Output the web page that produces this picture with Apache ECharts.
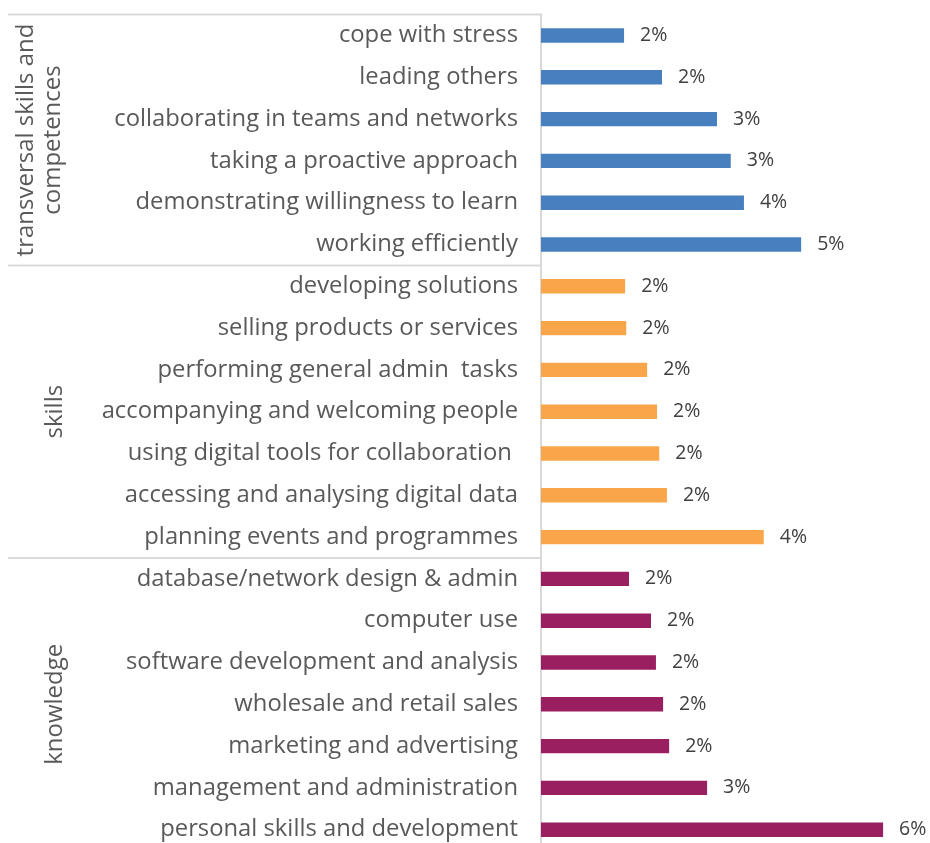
<!DOCTYPE html>
<html>
<head>
<meta charset="utf-8">
<script src="https://cdn.jsdelivr.net/npm/echarts@6/dist/echarts.min.js"></script>
<style>
  html, body { margin: 0; padding: 0; background: #ffffff; overflow: hidden; }
  #chart { width: 930px; height: 860px; }
</style>
</head>
<body>
<div id="chart"></div>
<script>
// Share of mentions (%) per item, grouped by type
const groupNames = ['transversal skills and\ncompetences', 'skills', 'knowledge'];

const transversalItems = ['cope with stress', 'leading others', 'collaborating in teams and networks',
  'taking a proactive approach', 'demonstrating willingness to learn', 'working efficiently'];
const transversalValues = [1.51, 2.2, 3.2, 3.45, 3.69, 4.73];

const skillItems = ['developing solutions', 'selling products or services', 'performing general admin  tasks',
  'accompanying and welcoming people', 'using digital tools for collaboration ', 'accessing and analysing digital data',
  'planning events and programmes'];
const skillValues = [1.53, 1.55, 1.93, 2.11, 2.15, 2.29, 4.05];

const knowledgeItems = ['database/network design & admin', 'computer use', 'software development and analysis',
  'wholesale and retail sales', 'marketing and advertising', 'management and administration',
  'personal skills and development'];
const knowledgeValues = [1.6, 2.0, 2.09, 2.22, 2.33, 3.02, 6.22];

const groupColors = ['#477fbf', '#f9a64a', '#9a1f60'];

const groups = [
  { items: transversalItems, values: transversalValues },
  { items: skillItems, values: skillValues },
  { items: knowledgeItems, values: knowledgeValues }
];

const categories = [];
const barData = [];
groups.forEach((g, gi) => {
  g.items.forEach((name, i) => {
    categories.push(name);
    barData.push({ value: g.values[i], itemStyle: { color: groupColors[gi] } });
  });
});

const FONT = '"Open Sans", Lato, sans-serif';
const chart = echarts.init(document.getElementById('chart'));

chart.setOption({
  animation: false,
  backgroundColor: '#ffffff',
  grid: { left: 541, top: 14.6, width: 385, height: 836 },
  xAxis: {
    type: 'value', min: 0, max: 7, show: false
  },
  yAxis: {
    type: 'category',
    data: categories,
    inverse: true,
    axisLine: { show: true, lineStyle: { color: '#d9d9d9', width: 2 } },
    axisTick: { show: false },
    axisLabel: {
      margin: 23,
      color: '#595959',
      fontFamily: FONT,
      fontSize: 23.8
    }
  },
  series: [{
    type: 'bar',
    data: barData,
    barWidth: 14.4,
    label: {
      show: true,
      position: 'right',
      distance: 16,
      color: '#404040',
      fontFamily: FONT,
      fontSize: 19.5,
      formatter: p => Math.round(p.value) + '%'
    }
  }]
});

// Group separators and rotated group titles, placed from the category axis
const half = (chart.convertToPixel({ yAxisIndex: 0 }, categories[1]) -
              chart.convertToPixel({ yAxisIndex: 0 }, categories[0])) / 2;
const axisX = chart.convertToPixel({ xAxisIndex: 0 }, 0);
const graphics = [];
let start = 0;
groups.forEach((g, gi) => {
  const firstY = chart.convertToPixel({ yAxisIndex: 0 }, categories[start]) - half;
  const lastY = chart.convertToPixel({ yAxisIndex: 0 }, categories[start + g.items.length - 1]) + half;
  graphics.push({
    type: 'line',
    shape: { x1: 8, y1: firstY, x2: axisX, y2: firstY },
    style: { stroke: '#d9d9d9', lineWidth: 2 }
  });
  graphics.push({
    type: 'text',
    x: gi === 0 ? 40 : 55,
    y: (firstY + lastY) / 2,
    rotation: Math.PI / 2,
    style: {
      text: groupNames[gi],
      fill: '#595959',
      font: '24px ' + FONT,
      align: 'center',
      verticalAlign: 'middle',
      lineHeight: 27
    }
  });
  start += g.items.length;
});
chart.setOption({ graphic: graphics });
</script>
</body>
</html>
